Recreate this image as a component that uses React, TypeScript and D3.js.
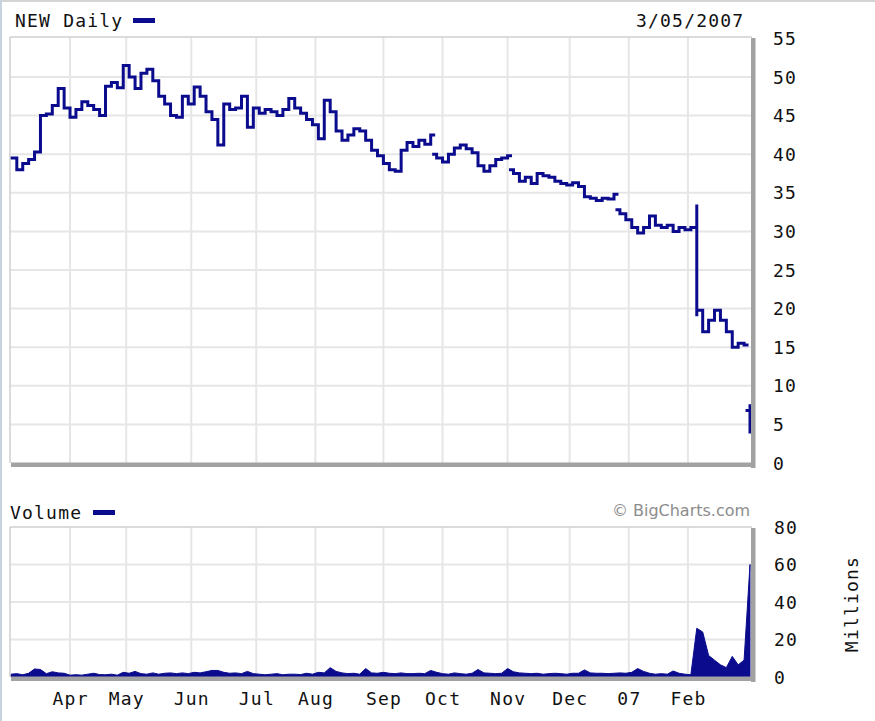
import React from "react";
import * as d3 from "d3";

// Closing prices, one per 2 trading days (Mar 6 2006 .. Mar 5 2007)
const closes = [
  39.5, 38.0, 38.8, 39.3, 40.3, 45.0, 45.2, 46.3, 48.5, 46.0,
  44.8, 45.8, 46.8, 46.3, 45.8, 45.0, 48.8, 49.3, 48.6, 51.5,
  50.0, 48.5, 50.5, 51.0, 49.5, 47.5, 46.5, 45.0, 44.8, 47.5,
  46.5, 48.7, 47.5, 45.5, 44.5, 41.2, 46.5, 45.8, 46.0, 47.5,
  43.5, 46.0, 45.3, 45.8, 45.5, 45.0, 45.8, 47.2, 46.0, 45.3,
  44.5, 43.8, 42.0, 47.0, 45.5, 43.0, 41.8, 42.5, 43.3, 43.0,
  41.8, 40.5, 39.8, 38.8, 38.0, 37.8, 40.5, 41.5, 41.0, 41.8,
  41.3, 42.5, 39.5, 39.0, 40.0, 40.8, 41.2, 40.7, 40.2, 38.5,
  37.8, 38.5, 39.3, 39.5, 39.8, 37.5, 36.5, 37.0, 36.2, 37.5,
  37.2, 37.0, 36.5, 36.2, 36.0, 36.3, 35.8, 34.5, 34.3, 34.0,
  34.3, 34.2, 34.8, 32.3, 31.5, 30.5, 29.8, 30.5, 32.0, 30.8,
  30.5, 30.8, 30.0, 30.5, 30.2, 30.5, 19.8, 17.0, 18.5, 19.8,
  18.5, 17.0, 15.0, 15.5, 15.3, 4.3,
];

// Opening prices where the bar gaps away from the previous close: [bar, open]
const gapOpens: [number, number][] = [
  [72, 40.0],
  [85, 38.0],
  [103, 32.8],
  [125, 6.8],
];

// Bars with a wide high-low range: [bar, low, high]
const wideRanges: [number, number, number][] = [
  [116, 19.2, 33.3],
  [125, 4.0, 7.4],
];

// Volume in millions, one per 2 trading days
const volumes = [
  1.5, 1.8, 1.2, 2.0, 4.3, 4.0, 1.8, 2.8, 2.2, 2.0,
  1.0, 1.2, 1.0, 1.5, 2.0, 1.3, 1.2, 1.5, 1.0, 2.5,
  2.0, 3.0, 1.8, 1.5, 2.2, 1.5, 2.0, 2.2, 1.8, 2.2,
  1.8, 2.5, 2.2, 2.8, 3.5, 3.5, 2.5, 2.0, 2.2, 1.8,
  3.0, 1.8, 1.5, 1.2, 1.5, 1.8, 1.2, 1.5, 1.5, 1.3,
  2.0, 1.5, 2.5, 2.2, 5.0, 3.0, 2.2, 1.8, 2.0, 1.5,
  4.5, 2.2, 2.0, 2.5, 2.0, 1.8, 2.2, 1.8, 1.8, 2.0,
  1.8, 3.5, 2.5, 1.8, 1.5, 2.2, 1.8, 1.5, 2.0, 4.0,
  2.2, 2.0, 1.8, 2.0, 4.5, 2.8, 2.2, 2.0, 1.8, 2.0,
  1.5, 1.8, 2.0, 1.8, 1.5, 2.0, 2.0, 3.8, 2.2, 2.0,
  2.0, 1.8, 2.0, 2.2, 2.0, 2.5, 4.5, 3.0, 2.0, 1.5,
  1.8, 1.5, 3.2, 2.0, 1.5, 1.2, 26.0, 24.0, 11.5, 9.0,
  6.5, 5.0, 11.0, 6.5, 9.0, 60.0,
];

const monthLabels = ["Apr", "May", "Jun", "Jul", "Aug", "Sep", "Oct", "Nov", "Dec", "07", "Feb"];
// trading-day index of the first session of each month
const monthStartDay = [20, 39, 61, 83, 103, 126, 146, 168, 189, 209, 229];

const priceTicks = [0, 5, 10, 15, 20, 25, 30, 35, 40, 45, 50, 55];
const volumeTicks = [0, 20, 40, 60, 80];

const DAYS_PER_BAR = 2;
const LAST_DAY = 250;

const W = 875;
const H = 721;
const L = 10;
const R = 752;
const P_TOP = 37;
const P_BOT = 463;
const V_TOP = 527;
const V_BOT = 677;

const BLUE = "#0b0b8e";
const GRID = "#e6e6e6";
const MONO = "'DejaVu Sans Mono', monospace";

export default function App() {
  const x = d3.scaleLinear().domain([0, LAST_DAY]).range([10.9, 750]);
  const yP = d3.scaleLinear().domain([0, 55]).range([P_BOT, 38.4]);
  const yV = d3.scaleLinear().domain([0, 80]).range([V_BOT, V_TOP]);

  const hw = (x(DAYS_PER_BAR) - x(0)) / 2;
  const gapMap = new Map(gapOpens);
  let barPath = "";
  closes.forEach((c, p) => {
    const xp = x(p * DAYS_PER_BAR);
    const o = gapMap.has(p) ? (gapMap.get(p) as number) : p > 0 ? closes[p - 1] : c;
    barPath += `M${xp - hw},${yP(o)}H${xp}V${yP(c)}H${xp + hw}`;
  });
  wideRanges.forEach(([p, lo, hi]) => {
    const xp = x(p * DAYS_PER_BAR);
    barPath += `M${xp},${yP(hi)}V${yP(lo)}`;
  });

  const volArea = d3
    .area<number>()
    .x((_, i) => x(i * DAYS_PER_BAR))
    .y0(yV(0))
    .y1((d) => yV(d))(volumes) as string;

  const textStyle = { fontFamily: MONO, fontSize: 18, letterSpacing: 1.2, fill: "#111" };

  const box = (top: number, bot: number) => (
    <g>
      <rect x={R - 1} y={top + 1} width={4.5} height={bot - top + 4} fill="#a2a2a2" />
      <rect x={L + 1} y={bot - 0.5} width={R - L + 2} height={4.5} fill="#a2a2a2" />
      <line x1={L} y1={top} x2={R} y2={top} stroke="#cfcfcf" strokeWidth={1.5} />
      <line x1={L} y1={top} x2={L} y2={bot} stroke="#cfcfcf" strokeWidth={1.5} />
    </g>
  );

  return (
    <svg
      width={W}
      height={H}
      style={{ position: "absolute", left: 0, top: 0, background: "#fff" }}
    >
      <defs>
        <clipPath id="clipP">
          <rect x={L} y={P_TOP} width={R - L - 1} height={P_BOT - P_TOP} />
        </clipPath>
        <clipPath id="clipV">
          <rect x={L} y={V_TOP} width={R - L - 1} height={V_BOT - V_TOP} />
        </clipPath>
      </defs>
      <rect x={0} y={0} width={W} height={H} fill="#fff" />
      <rect x={0} y={0} width={W} height={2} fill="#d4d4d4" />
      <rect x={0} y={0} width={2} height={H} fill="#c9d3e0" />

      {/* price panel grid */}
      {priceTicks
        .filter((t) => t > 0 && t < 55)
        .map((t) => (
          <line key={"pg" + t} x1={L} x2={R} y1={yP(t)} y2={yP(t)} stroke={GRID} strokeWidth={2} />
        ))}
      {monthStartDay.map((d, i) => (
        <line key={"pv" + i} x1={x(d)} x2={x(d)} y1={P_TOP} y2={P_BOT} stroke={GRID} strokeWidth={2} />
      ))}
      {/* volume panel grid */}
      {volumeTicks
        .filter((t) => t > 0 && t < 80)
        .map((t) => (
          <line key={"vg" + t} x1={L} x2={R} y1={yV(t)} y2={yV(t)} stroke={GRID} strokeWidth={2} />
        ))}
      {monthStartDay.map((d, i) => (
        <line key={"vv" + i} x1={x(d)} x2={x(d)} y1={V_TOP} y2={V_BOT} stroke={GRID} strokeWidth={2} />
      ))}

      {/* price bars */}
      <g clipPath="url(#clipP)">
        <path d={barPath} fill="none" stroke={BLUE} strokeWidth={3} strokeLinecap="square" />
      </g>
      {/* volume */}
      <g clipPath="url(#clipV)">
        <path d={volArea} fill={BLUE} stroke={BLUE} strokeWidth={1} />
      </g>

      {box(P_TOP, P_BOT)}
      {box(V_TOP, V_BOT)}

      {/* titles */}
      <text x={15} y={26.5} {...textStyle}>NEW Daily</text>
      <rect x={133} y={18} width={22} height={5} fill={BLUE} />
      <text x={636} y={26.5} {...textStyle}>3/05/2007</text>

      <text x={10} y={518.5} {...textStyle}>Volume</text>
      <rect x={93} y={510} width={22} height={5} fill={BLUE} />
      <text
        x={612}
        y={515.5}
        fontFamily="'DejaVu Sans', sans-serif"
        fontSize={16}
        fill="#8c8c8c"
        textLength={138}
        lengthAdjust="spacingAndGlyphs"
      >
        © BigCharts.com
      </text>

      {/* price axis labels */}
      {priceTicks.map((t) => (
        <text key={"pl" + t} x={773} y={yP(t) + 6.5} {...textStyle}>
          {t}
        </text>
      ))}
      {/* volume axis labels */}
      {volumeTicks.map((t) => (
        <text key={"vl" + t} x={774} y={yV(t) + 6.5} {...textStyle}>
          {t}
        </text>
      ))}
      <text
        transform="translate(858,604) rotate(-90)"
        textAnchor="middle"
        {...textStyle}
      >
        Millions
      </text>

      {/* month labels */}
      {monthStartDay.map((d, i) => (
        <text key={"ml" + i} x={x(d) + 0.6} y={705} textAnchor="middle" {...textStyle}>
          {monthLabels[i]}
        </text>
      ))}
    </svg>
  );
}
